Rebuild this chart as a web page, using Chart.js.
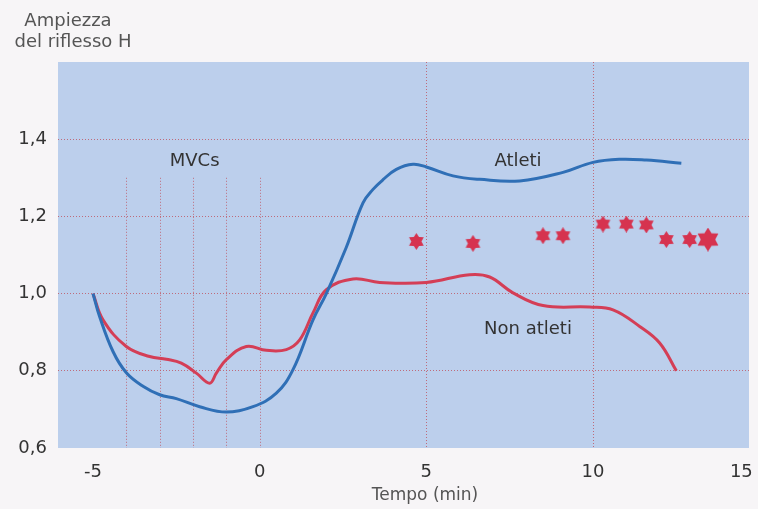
<!DOCTYPE html>
<html>
<head>
<meta charset="utf-8">
<script src="https://cdn.jsdelivr.net/npm/chart.js@4.4.1/dist/chart.umd.min.js"></script>
<style>
  html, body { margin: 0; padding: 0; background: #f7f5f7; overflow: hidden; }
  #wrap { width: 758px; height: 509px; position: relative; }
</style>
</head>
<body>
<div id="wrap"><canvas id="riflessoChart"></canvas></div>
<script>
// Data
const atletiTime = [-5, -4.8, -4.4, -4, -3.5, -3, -2.5, -1.8, -1, -0.2, 0.5, 1, 1.6, 2, 2.6, 3.1, 3.4, 3.7, 4.1, 4.6, 5, 5.8, 6.6, 7.8, 9.1, 10, 10.8, 11.6, 12.65];
const atletiAmp  = [1.0, 0.94, 0.85, 0.795, 0.76, 0.738, 0.728, 0.707, 0.693, 0.707, 0.742, 0.803, 0.932, 1.0, 1.12, 1.235, 1.27, 1.295, 1.322, 1.335, 1.328, 1.305, 1.296, 1.292, 1.314, 1.34, 1.348, 1.346, 1.338];

const nonAtletiTime = [-5, -4.7, -4, -3.3, -2.8, -2.35, -1.9, -1.5, -1.3, -1, -0.4, 0.2, 0.8, 1.2, 1.6, 2, 2.8, 3.6, 5, 6.3, 6.9, 7.6, 8.5, 9.9, 10.6, 11.4, 12, 12.5];
const nonAtletiAmp  = [1.0, 0.932, 0.863, 0.837, 0.83, 0.82, 0.794, 0.768, 0.794, 0.829, 0.863, 0.853, 0.855, 0.88, 0.95, 1.01, 1.038, 1.029, 1.029, 1.049, 1.043, 1.002, 0.969, 0.965, 0.958, 0.915, 0.872, 0.8];

const starTime = [4.7, 6.4, 8.5, 9.1, 10.3, 11.0, 11.6, 12.2, 12.9, 13.45];
const starAmp  = [1.135, 1.13, 1.15, 1.15, 1.18, 1.18, 1.178, 1.14, 1.14, 1.14];

const mvcTimes = [-4, -3, -2, -1, 0];
const yTicks = [0.6, 0.8, 1.0, 1.2, 1.4];
const xTicks = [-5, 0, 5, 10, 15];

const FONT = "'DejaVu Sans', 'Liberation Sans', Arial, sans-serif";
const gridRed = 'rgba(190, 90, 105, 0.85)';

function toPoints(xs, ys) {
    return xs.map((x, i) => ({ x: x, y: ys[i] }));
}

// six-pointed star marker
function makeStar(size) {
    const c = document.createElement('canvas');
    c.width = size; c.height = size;
    const g = c.getContext('2d');
    const r = size / 2, ri = r * 0.6;
    g.beginPath();
    for (let i = 0; i < 12; i++) {
        const a = -Math.PI / 2 + i * Math.PI / 6;
        const rr = i % 2 === 0 ? r : ri;
        g.lineTo(r + rr * Math.cos(a), r + rr * Math.sin(a));
    }
    g.closePath();
    g.fillStyle = '#d6334f';
    g.fill();
    return c;
}
const smallStar = makeStar(17);
const bigStar = makeStar(24);

// background, MVC markers and labels
const figurePlugin = {
    id: 'figure',
    beforeDraw(chart) {
        const { ctx, chartArea: a } = chart;
        ctx.save();
        ctx.fillStyle = '#f7f5f7';
        ctx.fillRect(0, 0, chart.width, chart.height);
        ctx.fillStyle = '#bccfec';
        ctx.fillRect(a.left, a.top, a.right - a.left, a.bottom - a.top);
        ctx.restore();
    },
    beforeDatasetsDraw(chart) {
        const { ctx, scales: { x, y } } = chart;
        ctx.save();
        ctx.strokeStyle = gridRed;
        ctx.lineWidth = 1;
        ctx.setLineDash([1, 2]);
        mvcTimes.forEach(t => {
            const px = Math.round(x.getPixelForValue(t)) + 0.5;
            ctx.beginPath();
            ctx.moveTo(px, y.getPixelForValue(1.3));
            ctx.lineTo(px, y.getPixelForValue(0.6));
            ctx.stroke();
        });
        ctx.restore();
    },
    afterDraw(chart) {
        const { ctx, scales: { x, y } } = chart;
        ctx.save();
        ctx.textAlign = 'center';
        ctx.textBaseline = 'middle';
        ctx.fillStyle = '#333';
        ctx.font = '18px ' + FONT;
        ctx.fillText('MVCs', x.getPixelForValue(-1.95), y.getPixelForValue(1.342));
        ctx.fillText('Atleti', x.getPixelForValue(7.75), y.getPixelForValue(1.342));
        ctx.fillText('Non atleti', x.getPixelForValue(8.05), y.getPixelForValue(0.907));

        ctx.fillStyle = '#555';
        ctx.fillText('Ampiezza', 68, 21);
        ctx.fillText('del riflesso H', 73, 42);
        ctx.font = '17px ' + FONT;
        ctx.fillText('Tempo (min)', 425, 496);
        ctx.restore();
    }
};

const ctx = document.getElementById('riflessoChart').getContext('2d');
new Chart(ctx, {
    type: 'scatter',
    data: {
        datasets: [
            {
                label: 'Atleti',
                data: toPoints(atletiTime, atletiAmp),
                showLine: true,
                borderColor: '#2f6fb6',
                borderWidth: 3,
                pointRadius: 0,
                tension: 0.4
            },
            {
                label: 'Non atleti',
                data: toPoints(nonAtletiTime, nonAtletiAmp),
                showLine: true,
                borderColor: '#d43e56',
                borderWidth: 3,
                pointRadius: 0,
                tension: 0.4
            },
            {
                label: 'Significatività',
                data: toPoints(starTime, starAmp),
                showLine: false,
                pointStyle: starTime.map((t, i) => i === starTime.length - 1 ? bigStar : smallStar),
                pointRadius: 8
            }
        ]
    },
    options: {
        responsive: true,
        maintainAspectRatio: false,
        animation: false,
        layout: { padding: { top: 62, right: 6, left: 0, bottom: 0 } },
        plugins: {
            legend: { display: false },
            tooltip: { enabled: false }
        },
        scales: {
            x: {
                type: 'linear',
                min: -6.05,
                max: 14.68,
                // the "15" label sits just inside the right edge in the figure
                afterBuildTicks: s => { s.ticks = xTicks.map(v => ({ value: Math.min(v, 14.45) })); },
                afterFit: s => { s.height = 61; s.paddingLeft = 0; s.paddingRight = 0; },
                border: { display: false, dash: [1, 2] },
                grid: {
                    drawTicks: false,
                    lineWidth: 1,
                    color: c => (c.tick && (c.tick.value === 5 || c.tick.value === 10)) ? gridRed : 'transparent'
                },
                ticks: {
                    padding: 14,
                    color: '#333',
                    font: { family: FONT, size: 18 },
                    callback: (v, i) => String(xTicks[i])
                }
            },
            y: {
                min: 0.6,
                max: 1.6,
                afterBuildTicks: s => { s.ticks = yTicks.map(v => ({ value: v })); },
                afterFit: s => { s.width = 58; s.paddingTop = 0; s.paddingBottom = 0; },
                border: { display: false, dash: [1, 2] },
                grid: {
                    drawTicks: false,
                    lineWidth: 1,
                    color: c => (c.tick && c.tick.value > 0.7) ? gridRed : 'transparent'
                },
                ticks: {
                    padding: 11,
                    color: '#333',
                    font: { family: FONT, size: 18 },
                    callback: v => v.toFixed(1).replace('.', ',')
                }
            }
        }
    },
    plugins: [figurePlugin]
});
</script>
</body>
</html>
